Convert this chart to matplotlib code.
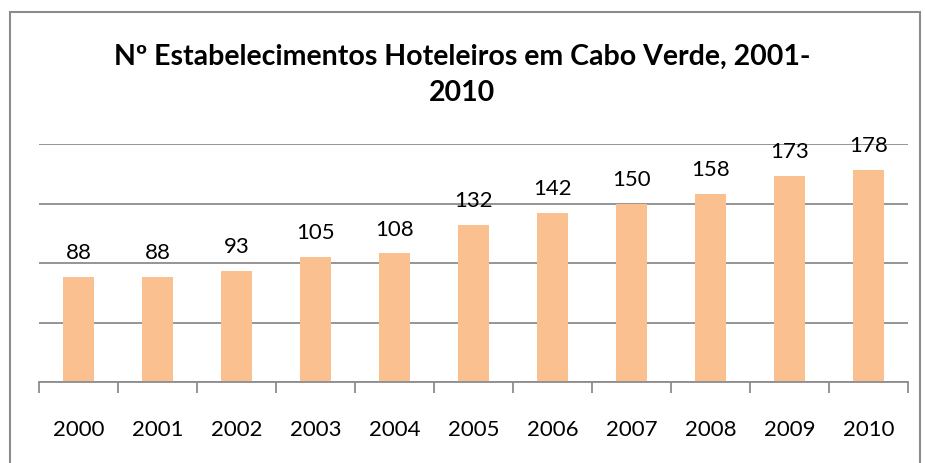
import matplotlib
matplotlib.use("Agg")
import matplotlib.pyplot as plt
from matplotlib.patches import Rectangle
import numpy as np

years = ["2000", "2001", "2002", "2003", "2004", "2005", "2006", "2007", "2008", "2009", "2010"]
values = [88, 88, 93, 105, 108, 132, 142, 150, 158, 173, 178]
title = "Nº Estabelecimentos Hoteleiros em Cabo Verde, 2001-\n2010"

plt.rcParams['font.family'] = ['Lato', 'DejaVu Sans']

fig = plt.figure(figsize=(9.25, 4.63), dpi=100)
# outer chart border
fig.patches.append(Rectangle((10/925, -0.05), (920-10)/925, 1 - 12/463 + 0.05,
                             transform=fig.transFigure, fill=False,
                             edgecolor="#8c8c8c", linewidth=1.5))

ax = fig.add_axes([39/925, 1 - 382/463, (908-39)/925, (382-144)/463])
x = np.arange(len(years))
ax.bar(x, values, width=0.4, color="#FAC090", zorder=3)
ax.set_xlim(-0.5, len(years) - 0.5)
ax.set_ylim(0, 200)
ax.set_yticks([0, 50, 100, 150, 200])
ax.yaxis.grid(True, color="#8c8c8c", linewidth=1.3, zorder=0)
ax.tick_params(axis='y', left=False, labelleft=False)
for s in ["left", "right", "top"]:
    ax.spines[s].set_visible(False)
ax.spines["bottom"].set_color("#8c8c8c")
ax.spines["bottom"].set_linewidth(1.3)
ax.spines["bottom"].set_zorder(4)

ax.set_xticks(np.arange(-0.5, len(years), 1.0), minor=False)
ax.set_xticklabels([])
ax.tick_params(axis='x', which='major', direction='out', length=8, width=1.3, color="#8c8c8c")
ax.set_xticks(x, minor=True)
ax.set_xticklabels(years, minor=True, fontsize=16)
ax.tick_params(axis='x', which='minor', length=0, pad=27)

for xi, v in zip(x, values):
    ax.annotate(str(v), (xi, v), xytext=(0, 10), textcoords="offset points",
                ha="center", va="bottom", fontsize=16, zorder=5)

fig.text(0.5, 1 - 75/463, title, ha="center", va="center", fontsize=20.5,
         fontweight="bold", linespacing=1.45)

fig.savefig("out.png", dpi=100)
